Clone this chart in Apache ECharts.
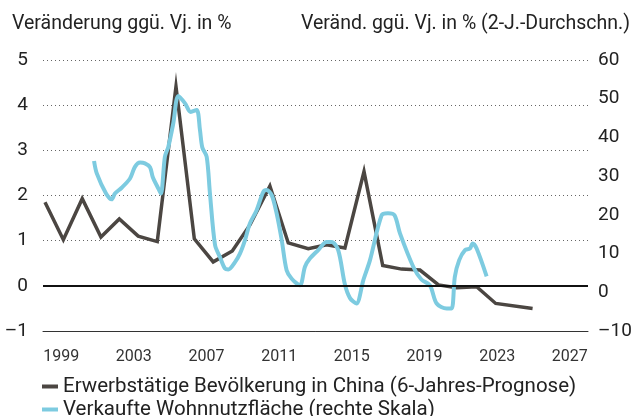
<!DOCTYPE html>
<html>
<head>
<meta charset="utf-8">
<script src="https://cdn.jsdelivr.net/npm/echarts@6/dist/echarts.min.js"></script>
<style>
  html, body { margin: 0; padding: 0; background: #fff; }
  #chart { width: 635px; height: 416px; }
</style>
</head>
<body>
<div id="chart"></div>
<script>
// Erwerbstätige Bevölkerung (left axis), x in years
const workYears = [1998.11, 1999.12, 2000.16, 2001.19, 2002.2, 2003.24, 2004.29, 2005.32, 2006.33, 2007.37,
  2008.42, 2009.39, 2010.49, 2011.5, 2012.6, 2013.61, 2014.62, 2015.67, 2016.7, 2017.74,
  2018.75, 2019.77, 2020.77, 2021.87, 2022.92, 2024.95];
const workValues = [1.85, 1.02, 1.93, 1.08, 1.48, 1.10, 0.98, 4.41, 1.04, 0.53,
  0.77, 1.35, 2.21, 0.95, 0.82, 0.91, 0.84, 2.53, 0.45, 0.37,
  0.35, 0.02, -0.04, -0.02, -0.39, -0.50];

// Verkaufte Wohnnutzfläche (right axis)
const areaYears = [2000.81, 2000.96, 2001.47, 2001.78, 2001.96, 2002.33, 2002.79, 2003.06, 2003.34, 2003.61,
  2003.89, 2004.04, 2004.35, 2004.49, 2004.71, 2004.9, 2005.17, 2005.45, 2005.82, 2006.13,
  2006.46, 2006.64, 2006.77, 2007.01, 2007.19, 2007.47, 2007.74, 2008.02, 2008.2, 2008.57,
  2008.84, 2009.12, 2009.39, 2009.76, 2010.12, 2010.31, 2010.59, 2010.86, 2011.14, 2011.41,
  2011.69, 2012.14, 2012.42, 2012.69, 2013.15, 2013.61, 2013.89, 2014.25, 2014.62, 2014.9,
  2015.25, 2015.63, 2016.0, 2016.64, 2016.99, 2017.35, 2017.65, 2018.38, 2018.83, 2019.3,
  2019.67, 2020.22, 2020.49, 2020.67, 2020.91, 2021.23, 2021.5, 2021.65, 2021.87, 2022.42];
const areaValues = [33.9, 30.7, 25.5, 24.0, 25.5, 27.0, 29.4, 32.4, 33.5, 33.3,
  32.3, 29.8, 26.8, 25.5, 35.0, 37.6, 43.6, 50.7, 48.8, 46.6,
  47.1, 41.9, 37.4, 35.0, 25.5, 12.2, 9.1, 6.1, 5.9, 7.8,
  10.0, 13.5, 17.8, 21.2, 25.9, 26.4, 25.1, 20.4, 13.5, 5.7,
  3.5, 1.8, 6.6, 8.7, 10.9, 13.0, 13.0, 10.9, 2.0, -1.5,
  -2.9, 3.1, 8.3, 19.9, 20.4, 19.9, 15.2, 6.6, 3.3, 1.8,
  -2.9, -4.2, -4.2, 4.0, 8.3, 10.9, 11.3, 12.6, 11.3, 4.1];

const yearTicks = [1999, 2003, 2007, 2011, 2015, 2019, 2023, 2027];
const leftTitle = 'Veränderung ggü. Vj. in %';
const rightTitle = 'Veränd. ggü. Vj. in % (2-J.-Durchschn.)';
const seriesNames = ['Erwerbstätige Bevölkerung in China (6-Jahres-Prognose)', 'Verkaufte Wohnnutzfläche (rechte Skala)'];

const FONT = 'Roboto';
const minus = v => String(v).replace('-', '\u2013');

const chart = echarts.init(document.getElementById('chart'), null, { renderer: 'canvas' });

const option = {
  animation: false,
  textStyle: { fontFamily: FONT },
  title: [
    { text: leftTitle, left: 7, top: 9, textStyle: { fontFamily: FONT, fontSize: 19.5, fontWeight: 'normal', color: '#222' } },
    { text: rightTitle, right: 0, top: 9, textStyle: { fontFamily: FONT, fontSize: 19.5, fontWeight: 'normal', color: '#222' } }
  ],
  grid: { left: 43, right: 47, top: 60, bottom: 85 },
  legend: {
    orient: 'vertical',
    left: 37,
    top: 371,
    height: 60,
    itemWidth: 16,
    itemHeight: 4,
    itemGap: 2,
    icon: 'rect',
    textStyle: { fontFamily: FONT, fontSize: 20.5, color: '#222' },
    data: seriesNames
  },
  xAxis: {
    type: 'value',
    min: 1998,
    max: 2028,
    axisLine: { show: true, onZero: false, lineStyle: { color: '#333', width: 1 } },
    axisTick: { show: false },
    splitLine: { show: false },
    axisLabel: {
      customValues: yearTicks,
      formatter: v => String(v),
      margin: 18,
      fontFamily: FONT,
      fontSize: 16,
      color: '#333'
    }
  },
  yAxis: [
    {
      type: 'value',
      min: -1,
      max: 5,
      interval: 1,
      axisLine: { show: false },
      axisTick: { show: false },
      axisLabel: { margin: 15, fontFamily: FONT, fontSize: 19, color: '#222', formatter: minus },
      splitLine: { show: true, lineStyle: { color: '#666', width: 1, type: [1, 3] } }
    },
    {
      type: 'value',
      min: -10,
      max: 60,
      interval: 10,
      axisLine: { show: false },
      axisTick: { show: false },
      axisLabel: { margin: 10, fontFamily: FONT, fontSize: 19, color: '#222', formatter: minus },
      splitLine: { show: false }
    }
  ],
  series: [
    {
      name: seriesNames[0],
      type: 'line',
      yAxisIndex: 0,
      data: workYears.map((y, i) => [y, workValues[i]]),
      showSymbol: false,
      smooth: false,
      color: '#4b4642',
      lineStyle: { width: 3.5, color: '#4b4642', join: 'miter' },
      markLine: {
        silent: true,
        symbol: ['none', 'none'],
        label: { show: false },
        lineStyle: { color: '#111', width: 2, type: 'solid' },
        data: [{ yAxis: 0 }]
      }
    },
    {
      name: seriesNames[1],
      type: 'line',
      yAxisIndex: 1,
      data: areaYears.map((y, i) => [y, areaValues[i]]),
      showSymbol: false,
      smooth: 0.3,
      color: '#7dcbe0',
      lineStyle: { width: 4, color: '#7dcbe0' }
    }
  ]
};

chart.setOption(option);
</script>
</body>
</html>
